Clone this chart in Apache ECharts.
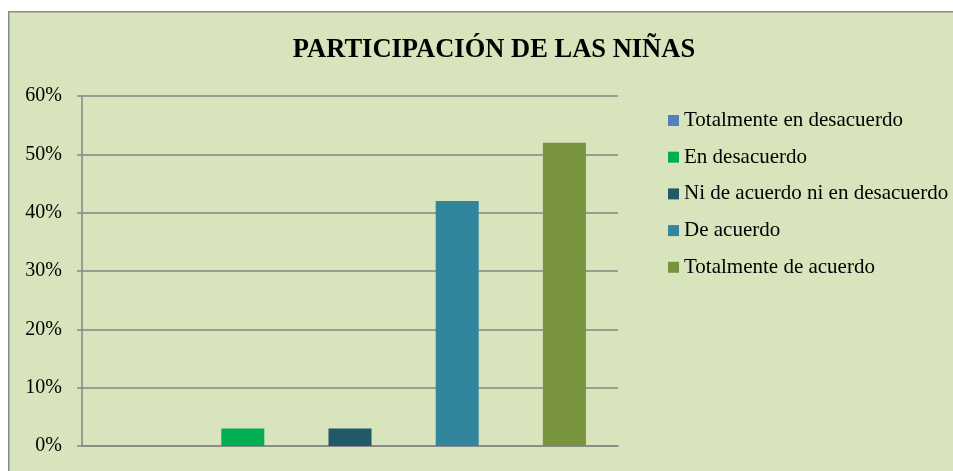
<!DOCTYPE html>
<html lang="es">
<head>
<meta charset="UTF-8">
<title>Participación de las niñas</title>
<style>
  html, body { margin: 0; padding: 0; background: #ffffff; }
  #chart { width: 953px; height: 471px; }
</style>
</head>
<body>
<div id="chart"></div>
<script src="https://cdn.jsdelivr.net/npm/echarts@6/dist/echarts.min.js"></script>
<script>
// respuestas y porcentajes
var categories = ['Totalmente en desacuerdo', 'En desacuerdo', 'Ni de acuerdo ni en desacuerdo', 'De acuerdo', 'Totalmente de acuerdo'];
var values = [0, 3, 3, 42, 52];
var colors = ['#4f81bd', '#00b050', '#215968', '#31859c', '#77933c'];
var yTicks = [0, 10, 20, 30, 40, 50, 60];

var chart = echarts.init(document.getElementById('chart'));

// una serie por respuesta para que la leyenda muestre cada una
var series = categories.map(function (name, i) {
  return {
    name: name,
    type: 'bar',
    barWidth: 43,
    barGap: '-100%',
    itemStyle: { color: colors[i] },
    data: values.map(function (v, j) { return j === i ? v : '-'; })
  };
});

var option = {
  animation: false,
  textStyle: { fontFamily: '"Liberation Serif", "Times New Roman", serif' },
  graphic: [{
    type: 'rect',
    left: 8, top: 11, z: -10,
    shape: { width: 980, height: 480 },
    style: { fill: '#d8e4bc', stroke: '#8a8a8a', lineWidth: 1.5 }
  }],
  title: {
    text: 'PARTICIPACIÓN DE LAS NIÑAS',
    left: 489, top: 32, textAlign: 'center',
    textStyle: { fontSize: 26.5, fontWeight: 'bold', color: '#000', fontFamily: '"Liberation Serif", serif' }
  },
  legend: {
    orient: 'vertical',
    left: 663, top: 105,
    itemWidth: 11, itemHeight: 11,
    itemGap: 15.7,
    icon: 'rect',
    textStyle: { fontSize: 21, color: '#000', fontFamily: '"Liberation Serif", serif' },
    data: categories
  },
  grid: { left: 82, right: 335, top: 96, bottom: 25 },
  xAxis: {
    type: 'category',
    data: categories,
    axisLine: { lineStyle: { color: '#868686', width: 1.5 } },
    axisTick: { show: false },
    axisLabel: { show: false }
  },
  yAxis: {
    type: 'value',
    min: yTicks[0], max: yTicks[yTicks.length - 1], interval: 10,
    axisLine: { show: true, lineStyle: { color: '#868686', width: 1.5 } },
    axisTick: { show: true, length: 5, lineStyle: { color: '#868686', width: 1.5 } },
    axisLabel: { formatter: '{value}%', fontSize: 20, color: '#000', margin: 20 },
    splitLine: { lineStyle: { color: '#868686', width: 1.5 } }
  },
  series: series
};

chart.setOption(option);
</script>
</body>
</html>
